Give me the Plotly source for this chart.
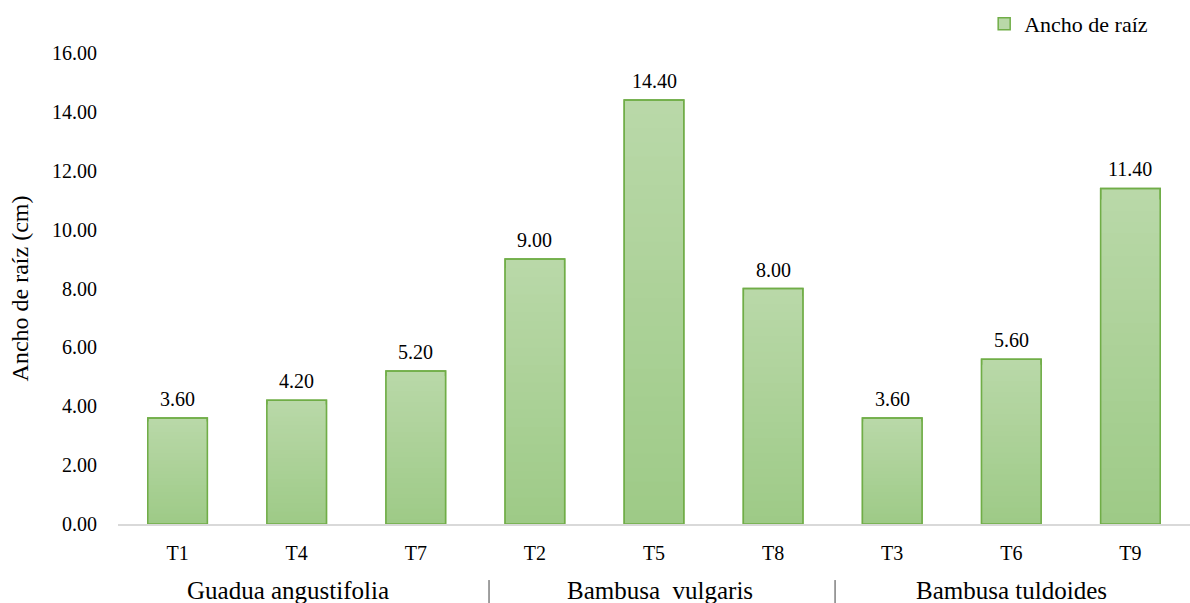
import plotly.graph_objects as go

# Root width per treatment, grouped by species
treatments = ["T1", "T4", "T7", "T2", "T5", "T8", "T3", "T6", "T9"]
root_width = [3.60, 4.20, 5.20, 9.00, 14.40, 8.00, 3.60, 5.60, 11.40]
species = ["Guadua angustifolia", "Bambusa  vulgaris", "Bambusa tuldoides"]
species_center = ["T4", "T5", "T6"]
series_name = "Ancho de raíz"

FONT = "Liberation Serif, Times New Roman, serif"
TOP = (185, 216, 168)      # light green at bar tops
BOTTOM = (157, 202, 134)   # deeper green at bar bases
EDGE = "#70ad47"

fig = go.Figure()

# Vertical gradient: overlay progressively shorter bars, darker toward the base
steps = 30
for k in range(steps):
    frac = (steps - k) / steps
    t = 1 - frac
    r, g, b = (round(TOP[i] + (BOTTOM[i] - TOP[i]) * t) for i in range(3))
    first = k == 0
    fig.add_trace(go.Bar(
        x=treatments,
        y=[v * frac for v in root_width],
        marker=dict(color=f"rgb({r},{g},{b})",
                    line=dict(color=EDGE, width=1.5 if first else 0)),
        width=0.5,
        name=series_name,
        showlegend=first,
        hoverinfo="skip",
    ))

# Outline on top
fig.add_trace(go.Bar(
    x=treatments,
    y=root_width,
    marker=dict(color="rgba(0,0,0,0)", line=dict(color=EDGE, width=1.5)),
    width=0.5,
    showlegend=False,
    name=series_name,
))

annotations = []
# Value labels above each bar
for cat, v in zip(treatments, root_width):
    annotations.append(dict(
        x=cat, xref="x", y=v, yref="y", yanchor="middle", yshift=19,
        text=f"{v:.2f}", showarrow=False,
        font=dict(family=FONT, size=20, color="#000000"),
    ))
# Species labels under the treatment axis
for name, center, dx in zip(species, species_center, [-9, 6, 0]):
    annotations.append(dict(
        x=center, xref="x", y=-0.142, yref="paper", yanchor="middle",
        xshift=dx, text=name, showarrow=False,
        font=dict(family=FONT, size=25, color="#000000"),
    ))

shapes = []
for xpos in [2.615, 5.52]:
    shapes.append(dict(
        type="line", xref="x", yref="paper",
        x0=xpos, x1=xpos, y0=-0.168, y1=-0.119,
        line=dict(color="#404040", width=1),
    ))

fig.update_layout(
    width=1190, height=603,
    barmode="overlay",
    plot_bgcolor="white",
    paper_bgcolor="white",
    margin=dict(l=118, r=0, t=53, b=79, autoexpand=False),
    font=dict(family=FONT, size=20, color="#000000"),
    showlegend=True,
    legend=dict(
        x=0.808, y=1.0616, xanchor="left", yanchor="middle",
        font=dict(family=FONT, size=22, color="#000000"),
        bgcolor="rgba(0,0,0,0)",
        itemwidth=30,
    ),
    xaxis=dict(
        showline=True, linecolor="#d9d9d9", linewidth=1.5,
        showgrid=False, ticks="", ticklabelstandoff=10,
        tickfont=dict(family=FONT, size=20),
    ),
    yaxis=dict(
        range=[0, 16], dtick=2, tickformat=".2f",
        showgrid=False, zeroline=False, showline=False,
        ticks="", ticklabelstandoff=20,
        tickfont=dict(family=FONT, size=20),
        title=dict(text="Ancho de raíz (cm)", font=dict(family=FONT, size=24),
                   standoff=16),
    ),
    annotations=annotations,
    shapes=shapes,
)

fig.write_html("out.html")
